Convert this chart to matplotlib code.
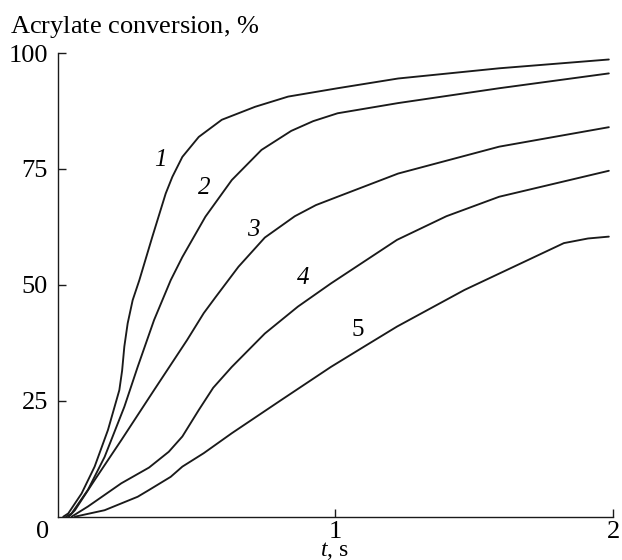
import matplotlib
matplotlib.use("Agg")
import matplotlib.pyplot as plt

plt.rcParams['font.family'] = ['Liberation Serif', 'DejaVu Serif']
plt.rcParams['mathtext.fontset'] = 'custom'
plt.rcParams['mathtext.rm'] = 'Liberation Serif'
plt.rcParams['mathtext.it'] = 'Liberation Serif:italic'

t1 = [0.02, 0.038, 0.086, 0.133, 0.181, 0.222, 0.232, 0.24, 0.252, 0.27, 0.294, 0.341, 0.389, 0.413, 0.449, 0.508, 0.591, 0.711, 0.83, 1.008, 1.226, 1.59, 1.985]
y1 = [0, 0.7, 5, 10.8, 18.7, 27.3, 31.5, 36.7, 41.7, 46.7, 51, 60.4, 69.7, 73.3, 77.6, 81.9, 85.6, 88.4, 90.6, 92.4, 94.5, 96.7, 98.6]
t2 = [0.03, 0.05, 0.109, 0.169, 0.24, 0.288, 0.347, 0.407, 0.449, 0.532, 0.627, 0.734, 0.841, 0.92, 1.008, 1.226, 1.59, 1.985]
y2 = [0, 0.7, 5.8, 12.9, 23.7, 32.3, 42.4, 51, 56, 64.7, 72.6, 79.1, 83.2, 85.3, 87, 89.2, 92.4, 95.6]
t3 = [0.04, 0.062, 0.133, 0.229, 0.347, 0.466, 0.526, 0.568, 0.651, 0.746, 0.854, 0.93, 1.008, 1.226, 1.59, 1.985]
y3 = [0, 1.4, 7.9, 16.5, 27.3, 38.1, 43.9, 47.3, 53.9, 60.2, 64.8, 67.2, 69, 74, 79.8, 84]
t4 = [0.05, 0.109, 0.229, 0.329, 0.40, 0.449, 0.508, 0.56, 0.627, 0.746, 0.865, 0.984, 1.222, 1.4, 1.59, 1.985]
y4 = [0, 2.2, 7.2, 10.6, 14, 17.3, 23, 27.8, 32.3, 39.5, 45.3, 50.3, 59.7, 64.8, 69, 74.6]
t5 = [0.062, 0.169, 0.288, 0.33, 0.407, 0.449, 0.526, 0.627, 0.806, 0.984, 1.104, 1.222, 1.465, 1.823, 1.91, 1.985]
y5 = [0, 1.4, 4.3, 5.8, 8.6, 10.8, 13.7, 18, 25.2, 32.3, 36.7, 41, 48.9, 59, 60, 60.4]

curve_labels = ["1", "2", "3", "4", "5"]
label_pos_t = [0.371, 0.526, 0.705, 0.883, 1.08]
label_pos_y = [76.9, 70.8, 61.8, 51.4, 40.3]
label_italic = [True, True, True, True, False]

xticks = [1, 2]
yticks = [25, 50, 75, 100]

W, H = 622, 560
x0, x2 = 57.7, 613.0
ytop, ybot = 53.0, 516.7

fig = plt.figure(figsize=(W / 100, H / 100), dpi=100)
ax = fig.add_axes([x0 / W, 1 - ybot / H, (x2 - x0) / W, (ybot - ytop) / H])

for t, y in [(t1, y1), (t2, y2), (t3, y3), (t4, y4), (t5, y5)]:
    ax.plot(t, y, color='#1a1a1a', lw=1.35, solid_joinstyle='round',
            solid_capstyle='round')

for lab, lt, ly, it in zip(curve_labels, label_pos_t, label_pos_y, label_italic):
    ax.text(lt, ly, lab, fontsize=18, style='italic' if it else 'normal',
            ha='center', va='center')

ax.set_xlim(0, 2)
ax.set_ylim(0, 100)
ax.spines['top'].set_visible(False)
ax.spines['right'].set_visible(False)
for s in ['left', 'bottom']:
    ax.spines[s].set_linewidth(1.0)
    ax.spines[s].set_color('#1a1a1a')
ax.set_xticks(xticks)
ax.set_xticklabels([str(v) for v in xticks])
ax.set_yticks(yticks)
ax.set_yticklabels([str(v) for v in yticks])
ax.tick_params(direction='in', length=6, width=1.0, labelsize=19, color='#1a1a1a')
ax.tick_params(axis='x', pad=3)
ax.tick_params(axis='y', pad=7)

fig.text(43 / W, 1 - 532 / H, "0", fontsize=19, ha='center', va='center')
fig.text(334 / W, 1 - 556 / H, r"$\mathit{t}$, s", fontsize=17, ha='center', va='baseline')
fig.text(10 / W, 1 - 33 / H, r"Acrylate conversion, $\mathit{\%}$", fontsize=19,
         ha='left', va='baseline')

fig.savefig("out.png", dpi=100)
